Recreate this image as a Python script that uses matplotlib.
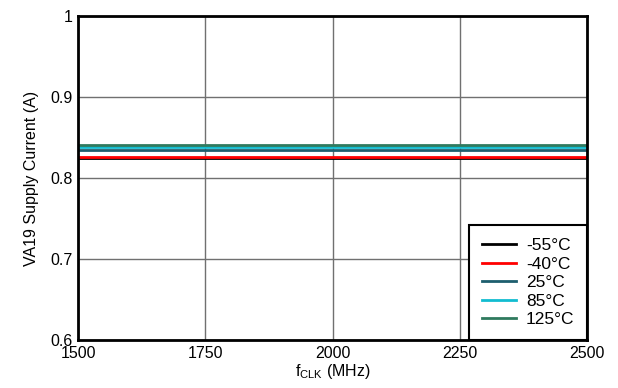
import matplotlib
matplotlib.use("Agg")
import matplotlib.pyplot as plt

plt.rcParams["font.family"] = ["Liberation Sans", "DejaVu Sans"]

fclk = [1500, 1750, 2000, 2250, 2500]
i_m55 = [0.8243, 0.8243, 0.8243, 0.8243, 0.8243]
i_m40 = [0.8263, 0.8263, 0.8263, 0.8263, 0.8263]
i_25 = [0.8346, 0.8346, 0.8346, 0.8346, 0.8346]
i_85 = [0.8380, 0.8380, 0.8380, 0.8380, 0.8380]
i_125 = [0.8407, 0.8407, 0.8407, 0.8407, 0.8407]

series = [
    (i_m55, "-55°C", "#000000"),
    (i_m40, "-40°C", "#ff0000"),
    (i_25, "25°C", "#1d5e6e"),
    (i_85, "85°C", "#12bcd0"),
    (i_125, "125°C", "#2f7a5e"),
]

fig = plt.figure(figsize=(6.18, 3.88), dpi=100)
ax = fig.add_axes([78 / 618, 48 / 388, 509 / 618, 324 / 388])

for vals, label, color in series:
    ax.plot(fclk, vals, color=color, lw=2, label=label)

ax.set_xlim(1500, 2500)
ax.set_ylim(0.6, 1.0)
ax.set_xticks([1500, 1750, 2000, 2250, 2500])
ax.set_yticks([0.6, 0.7, 0.8, 0.9, 1.0])
ax.set_yticklabels(["0.6", "0.7", "0.8", "0.9", "1"])
ax.grid(True, color="#707070", lw=1)
ax.tick_params(length=0, labelsize=11.5, pad=4)
for s in ax.spines.values():
    s.set_linewidth(2)
    s.set_color("black")

ax.set_xlabel("f$_{\\mathregular{CLK}}$ (MHz)", fontsize=11.5, labelpad=1)
ax.set_ylabel("VA19 Supply Current (A)", fontsize=11.5, labelpad=8)

leg = ax.legend(loc="lower right", fontsize=12.5, fancybox=False, framealpha=1,
                edgecolor="black", borderaxespad=0, handlelength=2.0,
                handletextpad=0.55, labelspacing=0.2, borderpad=0.72)
leg.get_frame().set_linewidth(1.5)

fig.savefig("out.png", dpi=100)
